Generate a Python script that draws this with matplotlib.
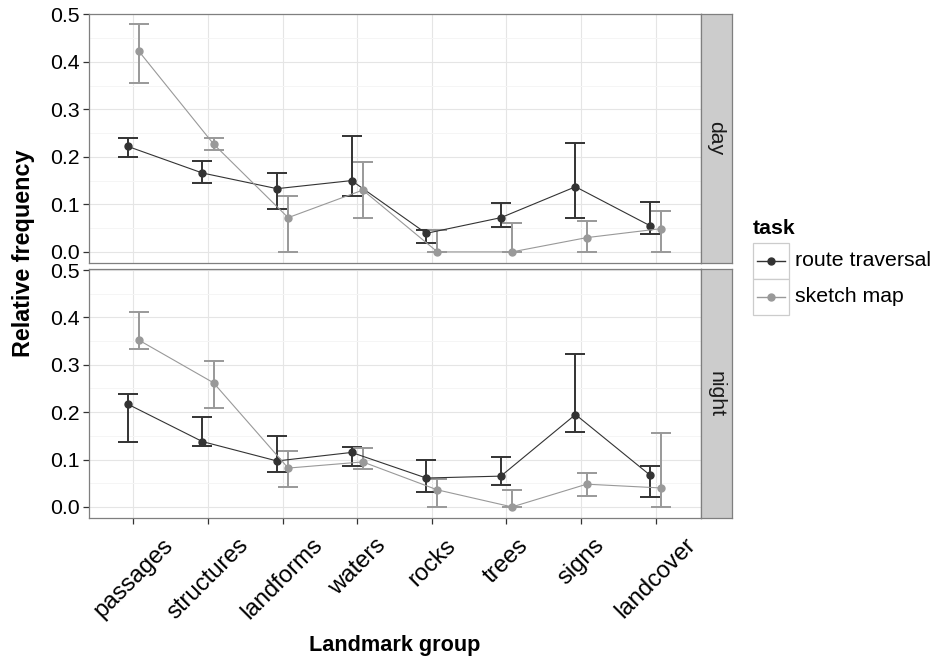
import numpy as np
import matplotlib
matplotlib.use('Agg')
import matplotlib.pyplot as plt
from matplotlib.patches import Rectangle
from matplotlib.lines import Line2D

plt.rcParams['font.family'] = ['Liberation Sans', 'DejaVu Sans']

categories = ['passages', 'structures', 'landforms', 'waters', 'rocks', 'trees', 'signs', 'landcover']
tasks = ['route traversal', 'sketch map']
facets = ['day', 'night']

# day
day_route = [0.222, 0.166, 0.133, 0.150, 0.039, 0.072, 0.137, 0.055]
day_route_lo = [0.199, 0.144, 0.090, 0.118, 0.019, 0.053, 0.072, 0.038]
day_route_hi = [0.240, 0.192, 0.166, 0.244, 0.047, 0.102, 0.229, 0.105]
day_sketch = [0.422, 0.227, 0.072, 0.130, 0.0, 0.0, 0.030, 0.049]
day_sketch_lo = [0.356, 0.215, 0.0, 0.072, 0.0, 0.0, 0.0, 0.0]
day_sketch_hi = [0.479, 0.239, 0.118, 0.190, 0.047, 0.060, 0.065, 0.087]

# night
night_route = [0.217, 0.138, 0.097, 0.115, 0.061, 0.065, 0.195, 0.067]
night_route_lo = [0.138, 0.128, 0.074, 0.087, 0.032, 0.047, 0.159, 0.022]
night_route_hi = [0.239, 0.190, 0.150, 0.127, 0.099, 0.106, 0.323, 0.086]
night_sketch = [0.352, 0.262, 0.082, 0.095, 0.036, 0.0, 0.048, 0.040]
night_sketch_lo = [0.333, 0.209, 0.042, 0.080, 0.0, 0.0, 0.024, 0.0]
night_sketch_hi = [0.411, 0.308, 0.117, 0.125, 0.059, 0.036, 0.071, 0.155]

data = {
    'day': [(day_route, day_route_lo, day_route_hi), (day_sketch, day_sketch_lo, day_sketch_hi)],
    'night': [(night_route, night_route_lo, night_route_hi), (night_sketch, night_sketch_lo, night_sketch_hi)],
}

colors = ['#333333', '#999999']
dodge = [-0.075, 0.075]
fs = 15.3

W, H = 931, 661
fig = plt.figure(figsize=(W / 100, H / 100), dpi=100)

def px_axes(x0, y0, x1, y1):
    return fig.add_axes([x0 / W, 1 - y1 / H, (x1 - x0) / W, (y1 - y0) / H])

panel_rows = [(13.5, 263.3), (269.3, 518.3)]
x = np.arange(1, len(categories) + 1)

for i, (facet, (top, bot)) in enumerate(zip(facets, panel_rows)):
    ax = px_axes(88.5, top, 700.5, bot)
    ax.set_xlim(0.4, 8.6)
    ax.set_ylim(-0.024, 0.5015)
    ax.set_yticks([0, 0.1, 0.2, 0.3, 0.4, 0.5])
    ax.set_yticks(np.arange(0.05, 0.5, 0.1), minor=True)
    ax.set_xticks(x)
    ax.grid(True, which='major', color='#E5E5E5', linewidth=0.8)
    ax.grid(True, which='minor', axis='y', color='#F5F5F5', linewidth=0.7)
    ax.set_axisbelow(True)
    for s in ax.spines.values():
        s.set_color('#7F7F7F')
        s.set_linewidth(0.9)
    ax.tick_params(axis='both', which='major', length=4.5, width=0.9, color='#333333',
                   labelsize=fs, labelcolor='black', pad=2)
    ax.tick_params(axis='y', which='minor', length=0)
    ax.set_yticklabels(['0.0', '0.1', '0.2', '0.3', '0.4', '0.5'])

    for j, (vals, lo, hi) in enumerate(data[facet]):
        xs = x + dodge[j]
        vals = np.array(vals)
        err = [vals - np.array(lo), np.array(hi) - vals]
        ax.errorbar(xs, vals, yerr=err, fmt='none', ecolor=colors[j],
                    elinewidth=1.4, capsize=7, capthick=1.4, zorder=2)
    for j, (vals, lo, hi) in enumerate(data[facet]):
        xs = x + dodge[j]
        ax.plot(xs, vals, color=colors[j], linewidth=0.8, marker='o',
                markersize=5, zorder=3)

    if i == 0:
        ax.tick_params(axis='x', labelbottom=False, length=0)
    else:
        ax.set_xticklabels(categories, rotation=45, ha='center', va='top', fontsize=17.2)
        ax.tick_params(axis='x', pad=7)

    # facet strip
    sax = px_axes(700.5, top, 731.5, bot)
    sax.set_facecolor('#CCCCCC')
    sax.set_xticks([])
    sax.set_yticks([])
    for s in sax.spines.values():
        s.set_color('#7F7F7F')
        s.set_linewidth(0.9)
    sax.text(0.5, 0.5, facet, rotation=-90, ha='center', va='center',
             fontsize=fs, color='#1A1A1A', transform=sax.transAxes)

# axis titles
fig.text(394.5 / W, 1 - 646 / H, 'Landmark group', ha='center', va='center',
         fontsize=15.6, fontweight='bold')
fig.text(24 / W, 1 - 253 / H, 'Relative frequency', ha='center', va='center',
         rotation=90, fontsize=16.8, fontweight='bold')

# legend
fig.text(753 / W, 1 - 228 / H, 'task', ha='left', va='center', fontsize=fs,
         fontweight='bold')
for j, t in enumerate(tasks):
    y0 = 242.7 + j * 36
    fig.patches.append(Rectangle((753 / W, 1 - (y0 + 36) / H), 36 / W, 36 / H,
                                 transform=fig.transFigure, facecolor='white',
                                 edgecolor='#CCCCCC', linewidth=0.9))
    yc = 1 - (y0 + 18) / H
    fig.lines.append(Line2D([757 / W, 785 / W], [yc, yc], transform=fig.transFigure,
                            color=colors[j], linewidth=1.0))
    fig.lines.append(Line2D([771 / W], [yc], transform=fig.transFigure,
                            color=colors[j], marker='o', markersize=5))
    fig.text(795 / W, yc, t, ha='left', va='center', fontsize=fs)

fig.savefig('out.png', dpi=100)
